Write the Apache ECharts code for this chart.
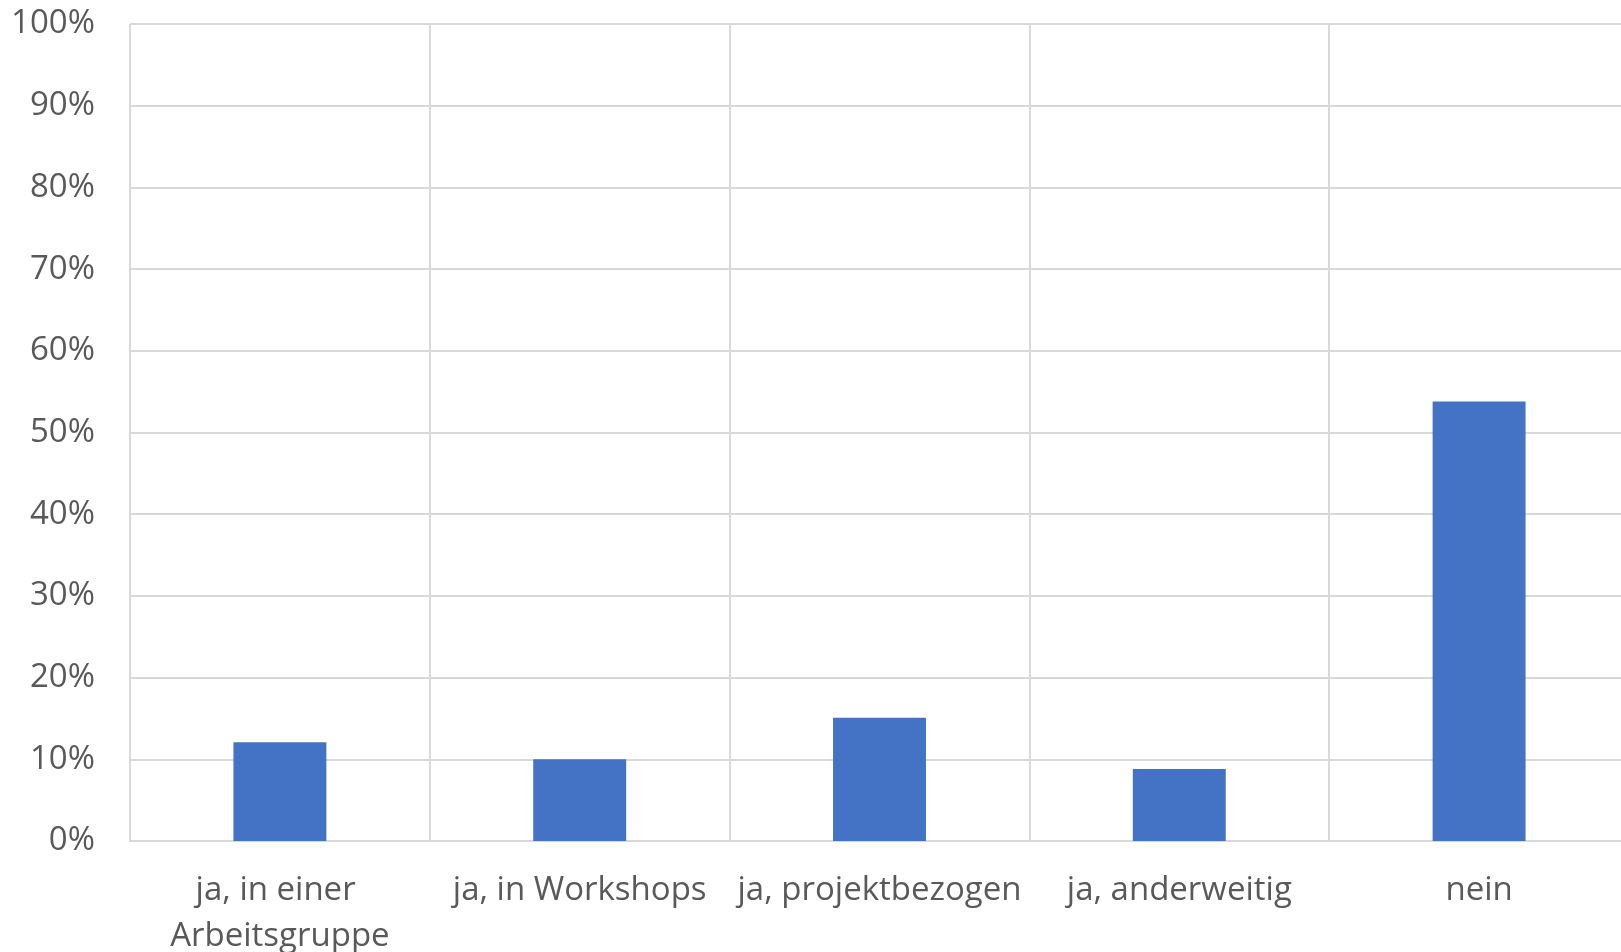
<!DOCTYPE html>
<html>
<head>
<meta charset="utf-8">
<script src="https://cdn.jsdelivr.net/npm/echarts@6/dist/echarts.min.js"></script>
<style>
  html, body { margin: 0; padding: 0; background: #fff; }
  #chart { width: 1621px; height: 952px; }
</style>
</head>
<body>
<div id="chart"></div>
<script>
// Kategorien und Anteile (%)
var categories = ['ja, in einer Arbeitsgruppe', 'ja, in Workshops', 'ja, projektbezogen', 'ja, anderweitig', 'nein'];
var shares = [12.1, 10.0, 15.1, 8.8, 53.8];
var yTicks = {min: 0, max: 100, step: 10};

var chart = echarts.init(document.getElementById('chart'));
var font = '"Open Sans", "Noto Sans", sans-serif';
var option = {
    animation: false,
    backgroundColor: '#ffffff',
    grid: {
        left: 130,
        top: 24,
        width: 1499,
        height: 817,
        containLabel: false,
        outerBoundsMode: 'none'
    },
    xAxis: {
        type: 'category',
        data: categories,
        boundaryGap: true,
        axisLine: { show: true, lineStyle: { color: '#d9d9d9', width: 2 } },
        axisTick: { show: false },
        splitLine: { show: true, lineStyle: { color: '#d9d9d9', width: 2 } },
        axisLabel: {
            interval: 0,
            margin: 27,
            color: '#595959',
            fontFamily: font,
            fontSize: 33,
            lineHeight: 46,
            width: 298,
            overflow: 'break'
        }
    },
    yAxis: {
        type: 'value',
        min: yTicks.min,
        max: yTicks.max,
        interval: yTicks.step,
        axisLine: { show: false },
        axisTick: { show: false },
        splitLine: { show: true, lineStyle: { color: '#d9d9d9', width: 2 } },
        axisLabel: {
            formatter: '{value}%',
            margin: 35,
            color: '#595959',
            fontFamily: font,
            fontSize: 33
        }
    },
    series: [
        {
            type: 'bar',
            data: shares,
            barWidth: '31%',
            itemStyle: { color: '#4472c4' }
        }
    ]
};
chart.setOption(option);
</script>
</body>
</html>
